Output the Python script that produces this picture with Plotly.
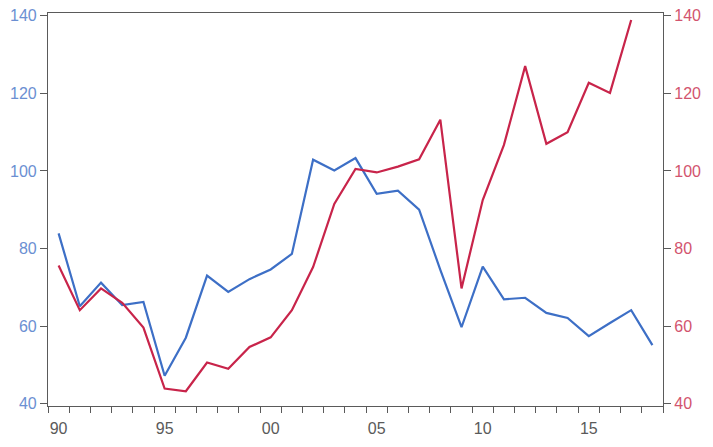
import plotly.graph_objects as go

years = list(range(1990, 2019))
blue_vals = [83.9, 65.1, 71.2, 65.4, 66.2, 47.2, 57.0, 73.0, 68.8, 72.1, 74.6, 78.6,
             102.9, 100.1, 103.3, 94.1, 94.9, 90.0, 74.5, 59.7, 75.3, 66.9, 67.3,
             63.4, 62.1, 57.4, 60.8, 64.1, 55.1]
red_years = list(range(1990, 2018))
red_vals = [75.6, 64.1, 69.7, 66.0, 59.6, 43.9, 43.2, 50.6, 49.0, 54.6, 57.1, 64.1,
            75.2, 91.5, 100.5, 99.6, 101.1, 103.0, 113.2, 69.7, 92.5, 106.7, 127.0,
            107.0, 110.0, 122.7, 120.1, 138.9]
label_years = [1990, 1995, 2000, 2005, 2010, 2015]
label_text = ["90", "95", "00", "05", "10", "15"]
y_ticks = [40, 60, 80, 100, 120, 140]

BLUE = "#3d6fc6"
RED = "#c8244a"
AXIS = "#5a5a5a"
FONT = "Liberation Sans, Arial, sans-serif"

fig = go.Figure()
fig.add_trace(go.Scatter(x=[y + 0.5 for y in years], y=blue_vals, mode="lines",
                         line=dict(color=BLUE, width=2.2), yaxis="y"))
fig.add_trace(go.Scatter(x=[y + 0.5 for y in red_years], y=red_vals, mode="lines",
                         line=dict(color=RED, width=2.2), yaxis="y2"))

fig.update_layout(
    width=713, height=447,
    margin=dict(l=48, r=50, t=13, b=41),
    paper_bgcolor="white", plot_bgcolor="white",
    showlegend=False,
    font=dict(family=FONT, size=16),
    xaxis=dict(
        range=[1990, 2019], automargin=False,
        tickvals=[y + 0.5 for y in label_years], ticktext=label_text,
        ticks="outside", ticklen=8, tickcolor="rgba(0,0,0,0)",
        tickfont=dict(color=AXIS, size=16),
        showline=True, linecolor=AXIS, linewidth=1.2, mirror=True,
        showgrid=False, zeroline=False,
        minor=dict(tickmode="linear", tick0=1990, dtick=1, ticks="outside",
                   ticklen=6, tickcolor=AXIS, tickwidth=1, showgrid=False),
    ),
    yaxis=dict(
        range=[39.4, 140.7], tickvals=y_ticks, automargin=False,
        ticks="outside", ticklen=7, tickcolor=AXIS,
        tickfont=dict(color="#6b8fd2", size=16),
        showline=True, linecolor=AXIS, linewidth=1.2,
        showgrid=False, zeroline=False,
    ),
    yaxis2=dict(
        range=[39.4, 140.7], tickvals=y_ticks, overlaying="y", side="right",
        automargin=False,
        ticks="outside", ticklen=7, tickcolor=AXIS,
        tickfont=dict(color="#d2546e", size=16),
        showline=True, linecolor=AXIS, linewidth=1.2,
        showgrid=False, zeroline=False,
    ),
)

fig.write_html("out.html", config={"displayModeBar": False},
               post_script="document.body.style.margin='0';")
